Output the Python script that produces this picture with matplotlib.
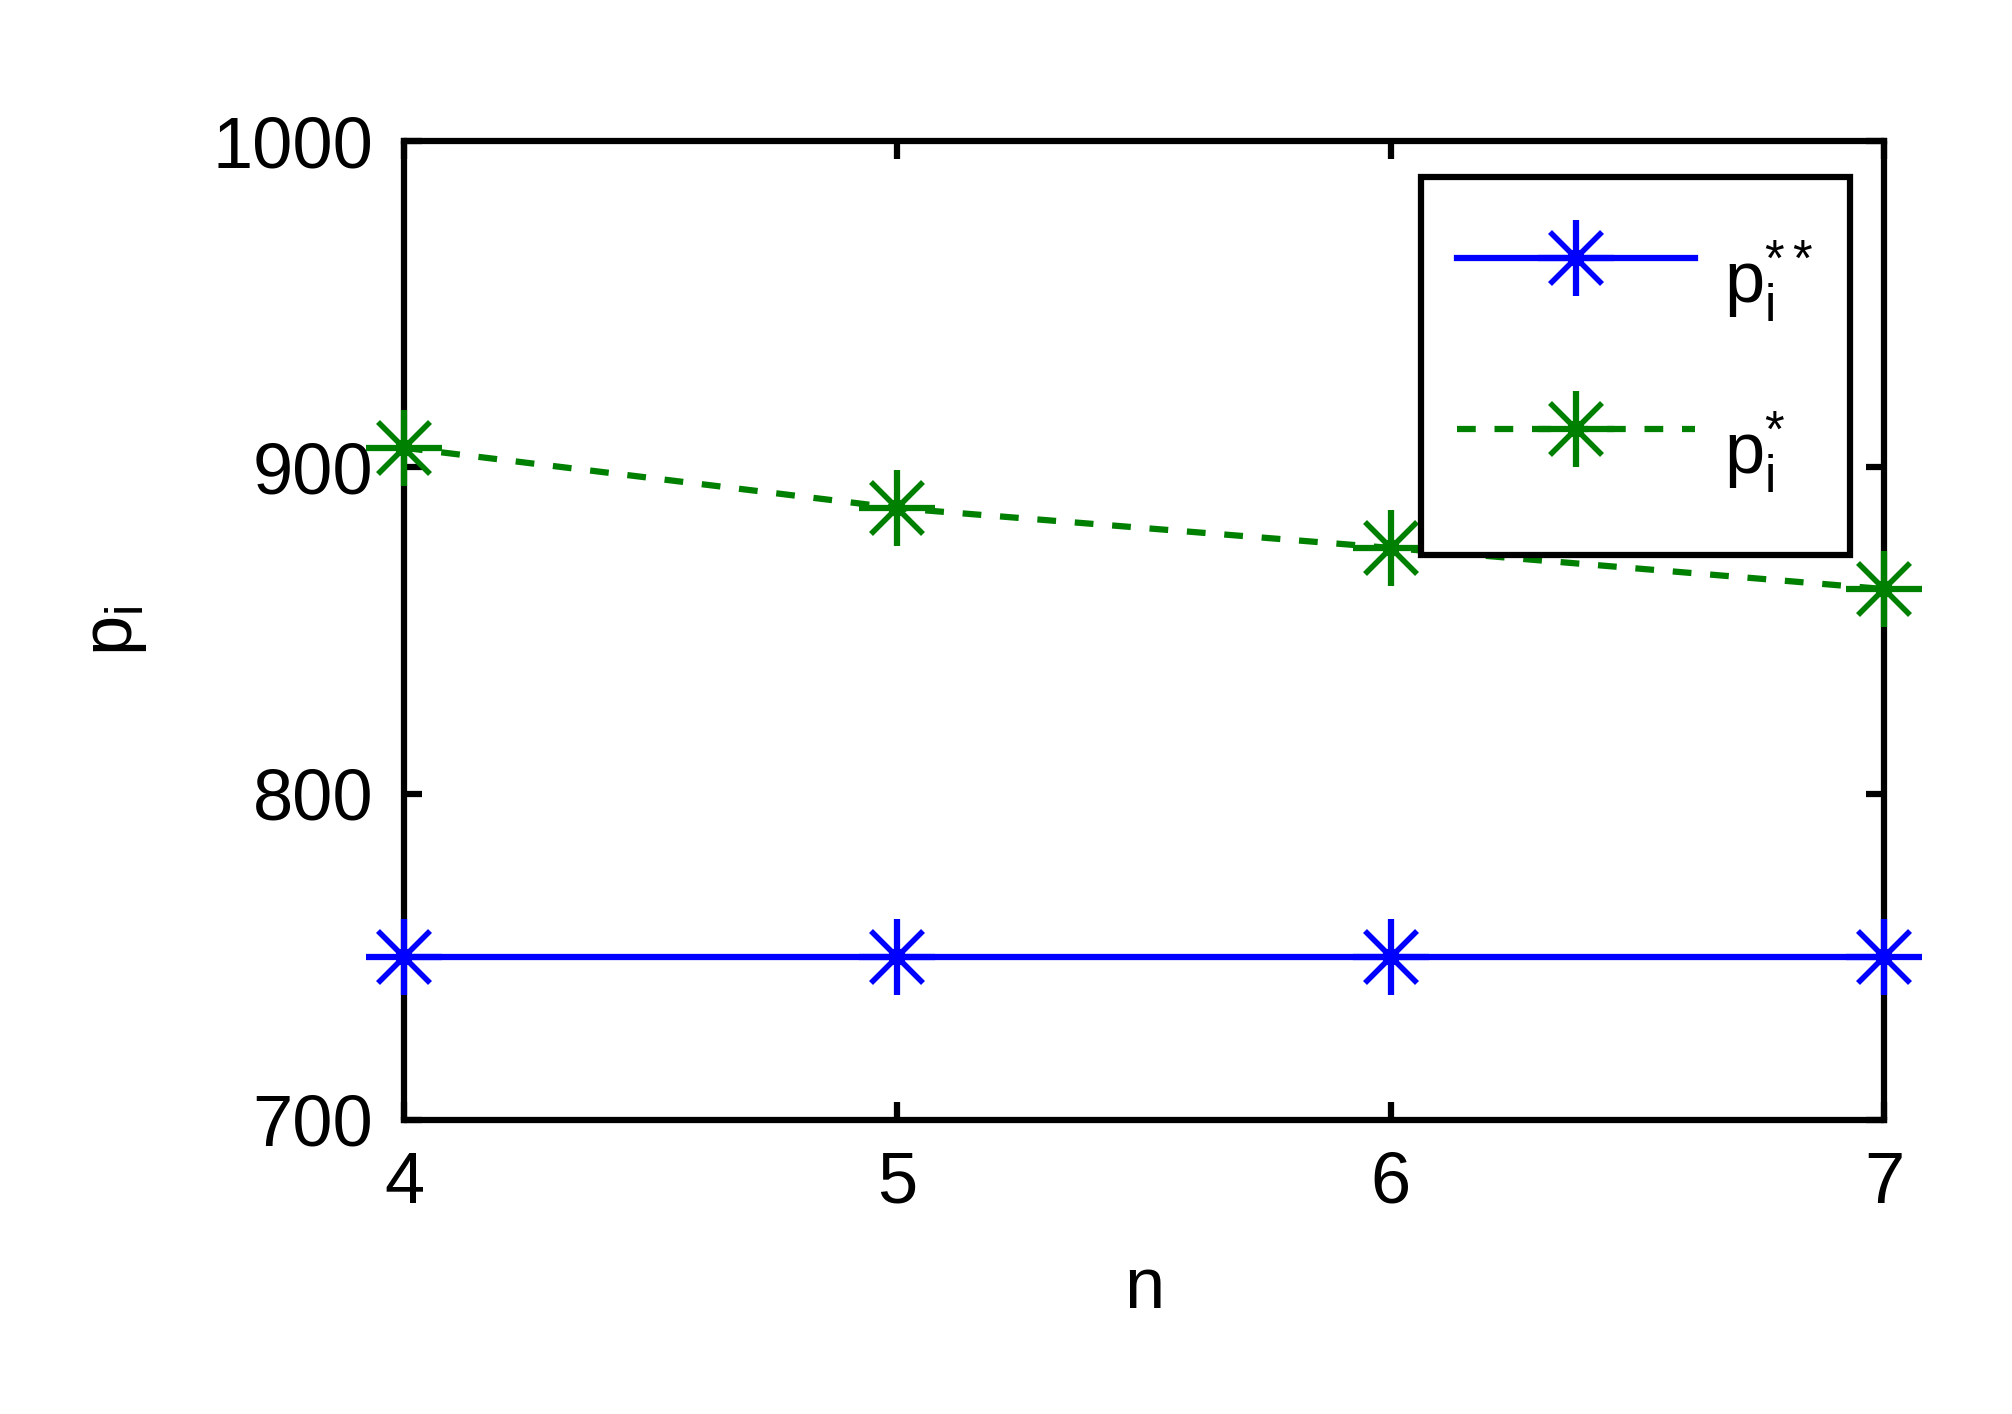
import matplotlib
matplotlib.use("Agg")
import matplotlib.pyplot as plt
from matplotlib.legend_handler import HandlerTuple

# values
n = [4, 5, 6, 7]
p_double_star = [750, 750, 750, 750]
p_star = [906, 887.5, 875.3, 862.7]

plt.rcParams['font.family'] = ['Liberation Sans', 'DejaVu Sans']
plt.rcParams['mathtext.fontset'] = 'custom'
plt.rcParams['mathtext.rm'] = 'Liberation Sans'
plt.rcParams['mathtext.it'] = 'Liberation Sans'
plt.rcParams['mathtext.default'] = 'regular'

W, H = 2012, 1414
fig = plt.figure(figsize=(W / 100, H / 100), dpi=100)
ax = fig.add_axes([404 / W, 1 - 1120 / H, (1884 - 404) / W, (1120 - 141) / H])

fs = 52
lw = 4.5


def series(x, y, color, ls):
    line, = ax.plot(x, y, color=color, lw=lw, ls=ls, marker='+', ms=55,
                    mew=4.5, clip_on=False, zorder=3)
    cross, = ax.plot(x, y, color=color, ls='none', marker='x', ms=37,
                     mew=4.0, clip_on=False, zorder=3)
    dot, = ax.plot(x, y, color=color, ls='none', marker='s', ms=12,
                   mew=0, clip_on=False, zorder=4)
    return (line, cross, dot)


h1 = series(n, p_double_star, '#0000ff', '-')
h2 = series(n, p_star, '#008000', (0, (3.0, 3.0)))

ax.set_xlim(4, 7)
ax.set_ylim(700, 1000)
ax.set_xticks(n)
ax.set_yticks([700, 800, 900, 1000])
ax.tick_params(direction='in', length=13, width=4.5, top=True, right=True,
               labelsize=fs, pad=22)
for s in ax.spines.values():
    s.set_linewidth(4.5)

ax.set_xlabel('n', fontsize=fs, labelpad=28)
ax.set_ylabel('$p_i$', fontsize=fs, labelpad=46)

leg = fig.legend([h1, h2], ['$p_i^{**}$', '$p_i^{*}$'],
                 handler_map={tuple: HandlerTuple(ndivide=1, pad=0)},
                 loc='upper right', bbox_to_anchor=(1850 / W, 1 - 177 / H),
                 borderaxespad=0, fontsize=fs, numpoints=1, handlelength=3.3,
                 handleheight=2.5, handletextpad=0.4, labelspacing=0.5,
                 borderpad=0.5, fancybox=False, edgecolor='black',
                 framealpha=1)
leg.get_frame().set_linewidth(4.5)

fig.savefig('out.png', dpi=100)
